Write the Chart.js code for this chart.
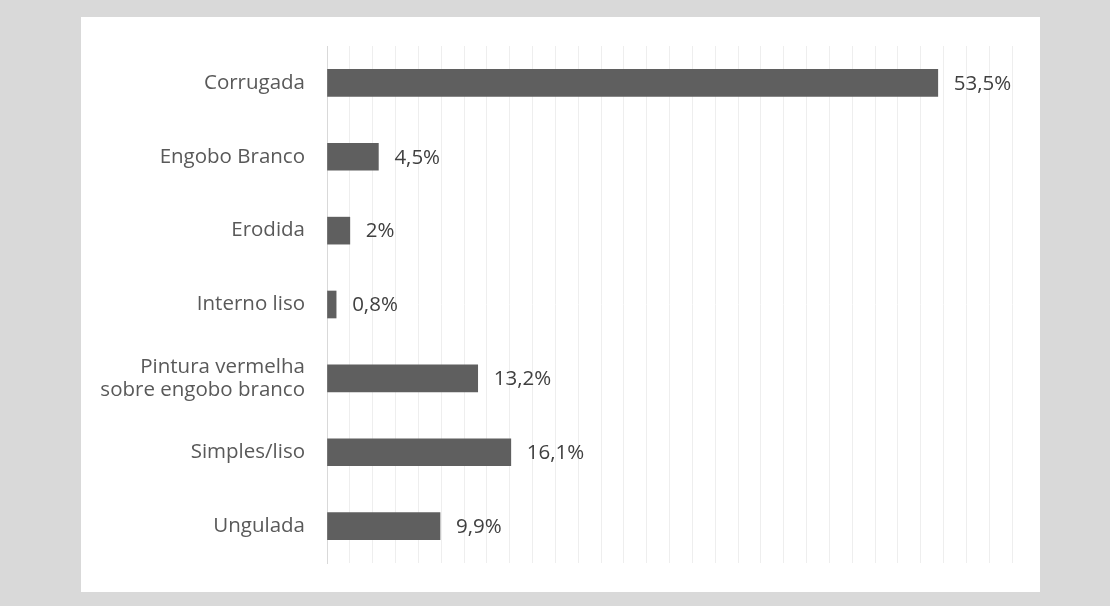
<!DOCTYPE html>
<html>
<head>
<meta charset="utf-8">
<script src="https://cdn.jsdelivr.net/npm/chart.js@4"></script>
<style>
  html, body { margin: 0; padding: 0; background: #d9d9d9; }
  #panel { position: absolute; left: 81px; top: 17px; width: 959px; height: 575px; background: #fff; }
</style>
</head>
<body>
<div id="panel"><canvas id="bar-chart"></canvas></div>
<script>
const categories = ['Corrugada', 'Engobo Branco', 'Erodida', 'Interno liso',
    ['Pintura vermelha', 'sobre engobo branco'], 'Simples/liso', 'Ungulada'];
const values = [53.5, 4.5, 2, 0.8, 13.2, 16.1, 9.9];
const valueLabels = ['53,5%', '4,5%', '2%', '0,8%', '13,2%', '16,1%', '9,9%'];

const fontFamily = "'Open Sans', sans-serif";

const barLabels = {
    id: 'barLabels',
    afterDatasetsDraw(chart) {
        const ctx = chart.ctx;
        const meta = chart.getDatasetMeta(0);
        ctx.save();
        ctx.font = '20.5px ' + fontFamily;
        ctx.fillStyle = '#404040';
        ctx.textAlign = 'left';
        ctx.textBaseline = 'middle';
        meta.data.forEach((bar, i) => {
            ctx.fillText(valueLabels[i], bar.x + 16, bar.y + 1);
        });
        ctx.restore();
    }
};

const data = {
    labels: categories,
    datasets: [
        {
            data: values,
            backgroundColor: '#5f5f5f',
            borderWidth: 0,
            barThickness: 27
        }
    ]
};

const config = {
    type: 'bar',
    data: data,
    plugins: [barLabels],
    options: {
        indexAxis: 'y',
        responsive: true,
        maintainAspectRatio: false,
        animation: false,
        layout: { padding: { top: 29, right: 28, bottom: 29, left: 0 } },
        plugins: {
            legend: { display: false },
            tooltip: { enabled: false }
        },
        scales: {
            x: {
                min: 0,
                max: 60,
                ticks: { display: false, stepSize: 2 },
                grid: { color: '#eeeeee', lineWidth: 1, drawTicks: false },
                border: { display: false }
            },
            y: {
                afterFit: (scale) => {
                    scale.width = 246;
                    scale.paddingTop = 0;
                    scale.paddingBottom = 0;
                },
                ticks: {
                    color: '#595959',
                    padding: 22,
                    font: { family: fontFamily, size: 20.5, lineHeight: 1.12 }
                },
                grid: { display: false, drawTicks: false },
                border: { display: true, color: '#d9d9d9', width: 1 }
            }
        }
    }
};

const el = document.querySelector('#bar-chart');
if (el) {
    const chartOb = new Chart(el, config);
}
</script>
</body>
</html>
